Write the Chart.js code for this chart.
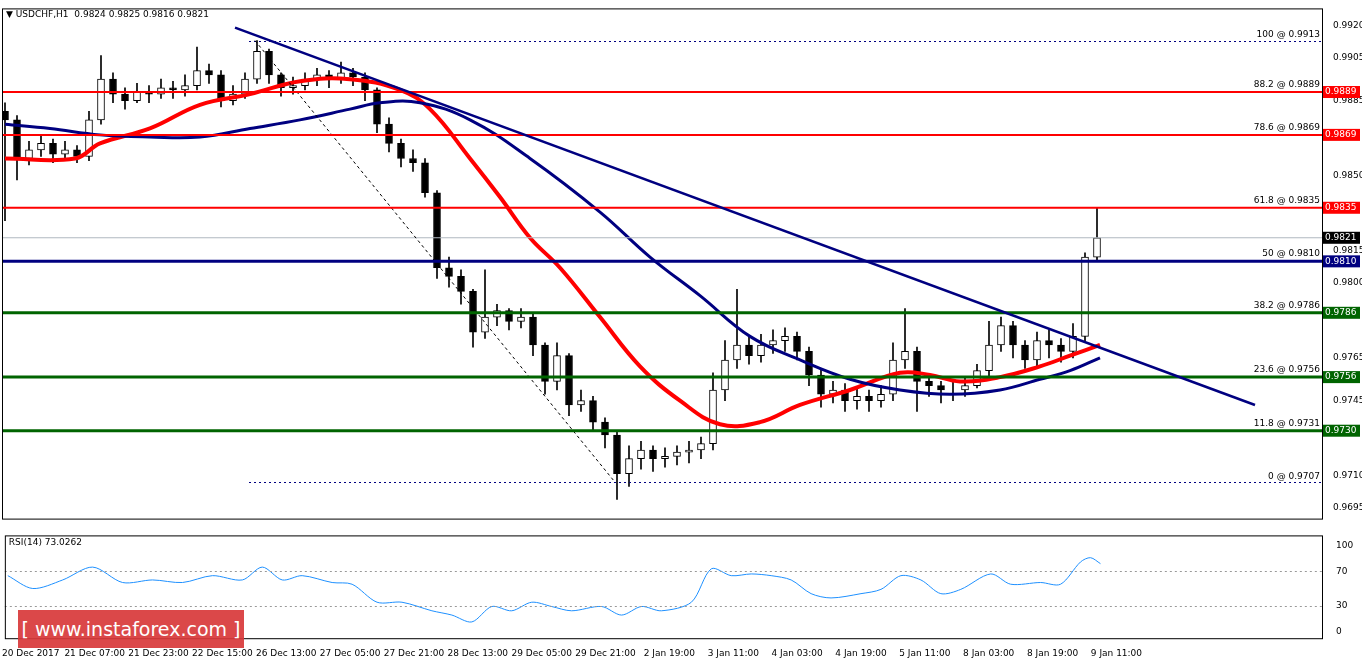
<!DOCTYPE html>
<html>
<head>
<meta charset="utf-8">
<script src="https://cdn.jsdelivr.net/npm/chart.js@4.4.1/dist/chart.umd.min.js"></script>
<style>
  body { margin: 0; background: #fff; font-family: "DejaVu Sans", sans-serif; }
  #wrap { position: relative; width: 1362px; height: 661px; }
  #mainBox { position: absolute; left: 0; top: 0; width: 1362px; height: 527px; }
  #rsiBox { position: absolute; left: 0; top: 524px; width: 1362px; height: 137px; }
  #logo { position: absolute; left: 18px; top: 610px; width: 226px; height: 38px; background: #d8393a;
          color: #fff; font: 19px "DejaVu Sans", sans-serif; line-height: 38px; text-align: center; opacity: 0.92; }
</style>
</head>
<body>
<div id="wrap">
  <div id="mainBox"><canvas id="mainChart"></canvas></div>
  <div id="rsiBox"><canvas id="rsiChart"></canvas></div>
  <div id="logo">[ www.instaforex.com ]</div>
</div>
<script>
// 3-hour candles, hour index from chart start
const closes = [0.9876,0.9858,0.9862,0.9865,0.9860,0.9862,0.9859,0.9876,0.9895,0.9888,
  0.9885,0.9889,0.9888,0.9891,0.9890,0.9892,0.9899,0.9897,0.9885,0.9888,
  0.9895,0.9908,0.9897,0.9891,0.9892,0.9895,0.9897,0.9895,0.9898,0.9896,
  0.9890,0.9874,0.9865,0.9858,0.9856,0.9842,0.9807,0.9803,0.9796,0.9777,
  0.9784,0.9787,0.9782,0.9784,0.9771,0.9754,0.9766,0.9743,0.9745,0.9735,
  0.9729,0.9711,0.9718,0.9722,0.9718,0.9719,0.9721,0.9722,0.9725,0.9750,
  0.9764,0.9771,0.9766,0.9771,0.9773,0.9775,0.9768,0.9757,0.9748,0.9750,
  0.9745,0.9747,0.9745,0.9748,0.9764,0.9768,0.9754,0.9752,0.9750,0.9750,
  0.9752,0.9759,0.9771,0.9780,0.9771,0.9764,0.9773,0.9771,0.9768,0.9775,
  0.9812,0.9821];
const highs = [0.9884,0.9878,0.9866,0.9869,0.9867,0.9866,0.9864,0.9880,0.9906,0.9898,
  0.9891,0.9893,0.9892,0.9895,0.9894,0.9897,0.9910,0.9902,0.9899,0.9892,
  0.9898,0.9913,0.9909,0.9898,0.9896,0.9898,0.9900,0.9899,0.9903,0.9900,
  0.9898,0.9891,0.9877,0.9867,0.9862,0.9858,0.9843,0.9812,0.9806,0.9797,
  0.9806,0.9790,0.9788,0.9788,0.9786,0.9772,0.9772,0.9767,0.9750,0.9747,
  0.9737,0.9731,0.9724,0.9726,0.9724,0.9723,0.9724,0.9726,0.9728,0.9758,
  0.9773,0.9797,0.9775,0.9776,0.9778,0.9779,0.9777,0.9770,0.9760,0.9754,
  0.9753,0.9751,0.9750,0.9752,0.9772,0.9788,0.9770,0.9757,0.9754,0.9755,
  0.9756,0.9762,0.9782,0.9784,0.9782,0.9773,0.9777,0.9778,0.9774,0.9781,
  0.9814,0.9835];
const lows = [0.9829,0.9848,0.9855,0.9859,0.9856,0.9857,0.9856,0.9857,0.9874,0.9884,
  0.9881,0.9884,0.9884,0.9886,0.9886,0.9887,0.9890,0.9893,0.9882,0.9883,
  0.9886,0.9893,0.9893,0.9887,0.9888,0.9890,0.9892,0.9891,0.9893,0.9892,
  0.9885,0.9870,0.9861,0.9854,0.9852,0.9840,0.9802,0.9798,0.9790,0.9770,
  0.9774,0.9780,0.9778,0.9779,0.9766,0.9748,0.9750,0.9738,0.9740,0.9731,
  0.9723,0.9699,0.9705,0.9713,0.9712,0.9714,0.9715,0.9716,0.9718,0.9722,
  0.9745,0.9760,0.9762,0.9763,0.9767,0.9768,0.9764,0.9752,0.9742,0.9744,
  0.9740,0.9741,0.9740,0.9742,0.9745,0.9760,0.9740,0.9747,0.9744,0.9745,
  0.9747,0.9751,0.9756,0.9768,0.9765,0.9760,0.9761,0.9765,0.9763,0.9765,
  0.9773,0.9810];
const barStep = 3;

const redMaHours = [0,17.5,23.75,36.25,48.75,61.25,73.75,86.25,98.75,106.25,116.25,123.75,131.25,138.75,148.75,158.75,168.75,178.75,188.75,198.75,211.25,223.75,231.25,238.75,248.75,258.75,266.25,273.75];
const redMa = [0.9858,0.9858,0.9865,0.9872,0.9883,0.9888,0.9894,0.9895,0.9890,0.9881,0.9858,0.9840,0.9821,0.9807,0.9784,0.9761,0.9745,0.9734,0.9735,0.9743,0.9750,0.9758,0.9757,0.9754,0.9756,0.9761,0.9766,0.9771];
const blueMaHours = [0,11.25,23.75,36.25,48.75,61.25,73.75,86.25,93.75,103.75,116.25,131.25,148.75,161.25,173.75,186.25,198.75,211.25,223.75,236.25,248.75,258.75,266.25,273.75];
const blueMa = [0.9874,0.9872,0.9869,0.9868,0.9868,0.9872,0.9876,0.9881,0.9884,0.9884,0.9876,0.9858,0.9833,0.9812,0.9794,0.9775,0.9764,0.9755,0.9750,0.9748,0.9750,0.9755,0.9759,0.9765];

const rsiHours = [0,6.25,13.75,21.25,28.75,36.25,43.75,51.25,58.75,63.75,68.75,73.75,81.25,86.25,92.5,98.75,106.25,111.25,116.25,121.25,126.25,131.25,136.25,141.25,148.75,153.75,158.75,163.75,171.25,176.25,181.25,186.25,191.25,196.25,201.25,206.25,213.75,218.75,223.75,228.75,233.75,238.75,246.25,251.25,258.75,263.75,268.75,271.25,273.75];
const rsiValues = [65,50,60,75,57,60,57,65,60,75,60,65,57,55,34,34,24,19,11,29,24,34,29,24,29,19,29,24,34,73,65,67,65,60,44,39,44,49,65,60,44,49,67,55,57,55,81,86,79];

const priceTicks = [0.9920,0.9905,0.9885,0.9850,0.9815,0.9800,0.9765,0.9745,0.9710,0.9695];
const timeLabels = ["20 Dec 2017","21 Dec 07:00","21 Dec 23:00","22 Dec 15:00","26 Dec 13:00","27 Dec 05:00","27 Dec 21:00","28 Dec 13:00","29 Dec 05:00","29 Dec 21:00","2 Jan 19:00","3 Jan 11:00","4 Jan 03:00","4 Jan 19:00","5 Jan 11:00","8 Jan 03:00","8 Jan 19:00","9 Jan 11:00"];
const firstLabelHour = 5.75, labelStep = 16;

// levels: price, colour, label text, axis tag
const levels = [
  [0.9889, "#ff0000", "88.2 @ 0.9889", "0.9889"],
  [0.9869, "#ff0000", "78.6 @ 0.9869", "0.9869"],
  [0.9835, "#ff0000", "61.8 @ 0.9835", "0.9835"],
  [0.9810, "#000080", "50 @ 0.9810", "0.9810"],
  [0.9786, "#006400", "38.2 @ 0.9786", "0.9786"],
  [0.9756, "#006400", "23.6 @ 0.9756", "0.9756"],
  [0.9731, "#006400", "11.8 @ 0.9731", "0.9730"]
];
const fibTop = 0.9913, fibBottom = 0.9707, fibStartHour = 61;
const trendLine = [[57.5, 0.9919], [312.5, 0.9743]];
const lastPrice = 0.9821;

const X_MIN = -0.75, X_MAX = 329.25;
const candleData = closes.map((c, i) => {
  const o = i === 0 ? 0.9880 : closes[i - 1];
  return { x: i * barStep, y: [o, c] };
});
const wickData = closes.map((c, i) => ({ x: i * barStep, y: [lows[i], highs[i]] }));

const overlay = {
  id: "overlay",
  afterDatasetsDraw(chart) {
    const { ctx, chartArea: a, scales: { x, y } } = chart;
    ctx.save();
    ctx.font = "10px 'DejaVu Sans'";
    // current price line
    ctx.strokeStyle = "#b0b8c0"; ctx.lineWidth = 1;
    ctx.beginPath(); ctx.moveTo(a.left, y.getPixelForValue(lastPrice)); ctx.lineTo(a.right, y.getPixelForValue(lastPrice)); ctx.stroke();
    // dotted fib lines
    ctx.setLineDash([2, 3]); ctx.strokeStyle = "#000080";
    [fibTop, 0.9731, fibBottom].forEach(p => {
      const py = Math.round(y.getPixelForValue(p)) + 0.5;
      ctx.beginPath(); ctx.moveTo(x.getPixelForValue(fibStartHour), py); ctx.lineTo(a.right, py); ctx.stroke();
    });
    ctx.strokeStyle = "#000";
    ctx.setLineDash([3, 3]);
    ctx.beginPath(); ctx.moveTo(x.getPixelForValue(62.5), y.getPixelForValue(fibTop));
    ctx.lineTo(x.getPixelForValue(152.5), y.getPixelForValue(fibBottom)); ctx.stroke();
    ctx.setLineDash([]);
    // level lines
    levels.forEach(([p, col]) => {
      ctx.strokeStyle = col; ctx.lineWidth = col === "#ff0000" ? 2 : 3;
      const py = y.getPixelForValue(p);
      ctx.beginPath(); ctx.moveTo(a.left, py); ctx.lineTo(a.right, py); ctx.stroke();
    });
    // trend line
    ctx.strokeStyle = "#000080"; ctx.lineWidth = 2.5;
    ctx.beginPath(); ctx.moveTo(x.getPixelForValue(trendLine[0][0]), y.getPixelForValue(trendLine[0][1]));
    ctx.lineTo(x.getPixelForValue(trendLine[1][0]), y.getPixelForValue(trendLine[1][1])); ctx.stroke();
    // level labels
    ctx.font = "9px 'DejaVu Sans'";
    ctx.fillStyle = "#000"; ctx.textAlign = "right"; ctx.textBaseline = "bottom";
    ctx.fillText("100 @ 0.9913", a.right - 2, y.getPixelForValue(fibTop) - 1);
    levels.forEach(([p, , t]) => ctx.fillText(t, a.right - 2, y.getPixelForValue(p) - 3));
    ctx.fillText("0 @ 0.9707", a.right - 2, y.getPixelForValue(fibBottom) - 1);
    // axis tags
    ctx.textAlign = "left"; ctx.textBaseline = "middle";
    const tags = levels.map(l => [l[0], l[1], l[3]]).concat([[lastPrice, "#000", "0.9821"]]);
    tags.forEach(([p, col, t]) => {
      const py = y.getPixelForValue(p);
      ctx.fillStyle = col; ctx.fillRect(a.right + 1, py - 6, 37, 12);
      ctx.fillStyle = "#fff"; ctx.fillText(t, a.right + 3, py);
    });
    // frame
    ctx.strokeStyle = "#000"; ctx.lineWidth = 1;
    ctx.strokeRect(a.left + 0.5, a.top + 0.5, a.width, a.height);
    // title
    ctx.fillStyle = "#000"; ctx.textBaseline = "top";
    ctx.fillText("▼ USDCHF,H1  0.9824 0.9825 0.9816 0.9821", a.left + 4, a.top + 2);
    ctx.restore();
  }
};

new Chart(document.getElementById("mainChart"), {
  type: "bar",
  data: {
    datasets: [
      { type: "line", data: blueMaHours.map((h, i) => ({ x: h, y: blueMa[i] })), borderColor: "#000080", borderWidth: 3, pointRadius: 0, tension: 0.4, order: 0 },
      { type: "line", data: redMaHours.map((h, i) => ({ x: h, y: redMa[i] })), borderColor: "#ff0000", borderWidth: 4, pointRadius: 0, tension: 0.4, order: 0 },
      { data: candleData, backgroundColor: candleData.map(d => d.y[1] >= d.y[0] ? "#ffffff" : "#000000"), borderColor: "#000", borderWidth: 1, borderSkipped: false, barThickness: 7, grouped: false, order: 1 },
      { data: wickData, backgroundColor: "#000", barThickness: 1, grouped: false, order: 2 }
    ]
  },
  options: {
    responsive: true, maintainAspectRatio: false, animation: false,
    layout: { padding: { top: 8, left: 2, bottom: 2, right: 0 } },
    plugins: { legend: { display: false }, tooltip: { enabled: false } },
    scales: {
      x: { type: "linear", min: X_MIN, max: X_MAX, offset: false, display: false },
      y: {
        position: "right", min: 0.9690, max: 0.9928,
        afterFit: s => { s.width = 40; },
        afterBuildTicks: s => { s.ticks = priceTicks.map(v => ({ value: v })); },
        grid: { display: false },
        border: { display: false },
        ticks: { color: "#000", font: { size: 9, family: "DejaVu Sans" }, padding: 3, callback: v => v.toFixed(4) }
      }
    }
  },
  plugins: [overlay]
});

const rsiOverlay = {
  id: "rsiOverlay",
  afterDatasetsDraw(chart) {
    const { ctx, chartArea: a, scales: { y } } = chart;
    ctx.save();
    ctx.strokeStyle = "#999"; ctx.setLineDash([2, 3]); ctx.lineWidth = 1;
    [70, 30].forEach(v => { const py = Math.round(y.getPixelForValue(v)) + 0.5; ctx.beginPath(); ctx.moveTo(a.left, py); ctx.lineTo(a.right, py); ctx.stroke(); });
    ctx.setLineDash([]); ctx.strokeStyle = "#000";
    ctx.strokeRect(a.left + 0.5, a.top + 0.5, a.width, a.height);
    ctx.fillStyle = "#000"; ctx.font = "9px 'DejaVu Sans'"; ctx.textBaseline = "top";
    ctx.fillText("RSI(14) 73.0262", a.left + 4, a.top + 3);
    ctx.restore();
  }
};

new Chart(document.getElementById("rsiChart"), {
  type: "line",
  data: { datasets: [{ data: rsiHours.map((h, i) => ({ x: h, y: rsiValues[i] })), borderColor: "#1e90ff", borderWidth: 1, pointRadius: 0, tension: 0.3 }] },
  options: {
    responsive: true, maintainAspectRatio: false, animation: false,
    layout: { padding: { top: 0, left: 2, right: 0 } },
    plugins: { legend: { display: false }, tooltip: { enabled: false } },
    scales: {
      x: {
        type: "linear", min: X_MIN, max: X_MAX,
        afterBuildTicks: s => { s.ticks = timeLabels.map((t, i) => ({ value: firstLabelHour + i * labelStep })); },
        grid: { display: false }, border: { display: false },
        ticks: { color: "#000", font: { size: 9, family: "DejaVu Sans" }, maxRotation: 0, autoSkip: false, padding: 2,
          callback: (v, i) => timeLabels[i] }
      },
      y: {
        position: "right", min: -8, max: 112,
        afterFit: s => { s.width = 40; },
        afterBuildTicks: s => { s.ticks = [100, 70, 30, 0].map(v => ({ value: v })); },
        grid: { display: false }, border: { display: false },
        ticks: { color: "#000", font: { size: 9, family: "DejaVu Sans" }, padding: 6 }
      }
    }
  },
  plugins: [rsiOverlay]
});
</script>
</body>
</html>
